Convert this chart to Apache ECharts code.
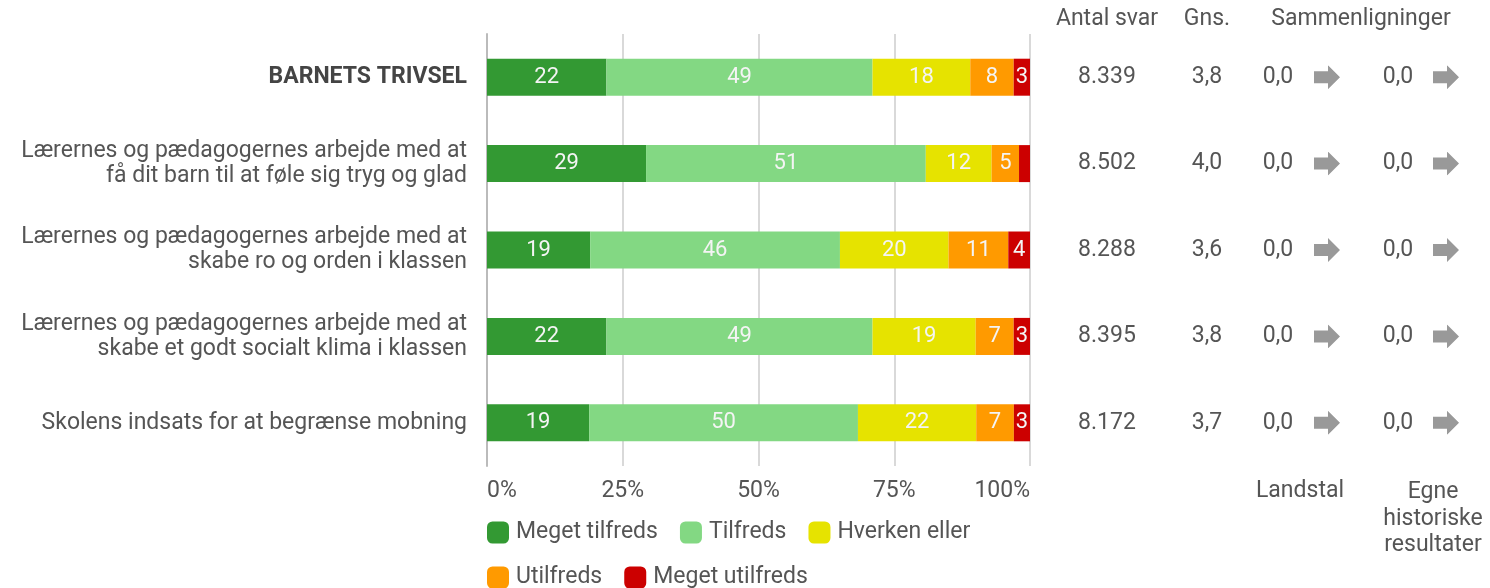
<!DOCTYPE html>
<html>
<head>
<meta charset="utf-8">
<title>Barnets trivsel</title>
<script src="https://cdn.jsdelivr.net/npm/echarts@6/dist/echarts.min.js"></script>
<style>
  html, body { margin: 0; padding: 0; background: #fff; }
  #chart { width: 1490px; height: 588px; }
</style>
</head>
<body>
<div id="chart"></div>
<script>
// Spørgsmål (første række er samlet indeks)
const categories = [
  'BARNETS TRIVSEL',
  'Lærernes og pædagogernes arbejde med at\nfå dit barn til at føle sig tryg og glad',
  'Lærernes og pædagogernes arbejde med at\nskabe ro og orden i klassen',
  'Lærernes og pædagogernes arbejde med at\nskabe et godt socialt klima i klassen',
  'Skolens indsats for at begrænse mobning'
];

// Svarfordeling i procent (afrundet, som vist i søjlerne)
const megetTilfreds = [22, 29, 19, 22, 19];
const tilfreds = [49, 51, 46, 49, 50];
const hverkenEller = [18, 12, 20, 19, 22];
const utilfreds = [8, 5, 11, 7, 7];
const megetUtilfreds = [3, 2, 4, 3, 3];

// Kolonner til højre
const antalSvar = ['8.339', '8.502', '8.288', '8.395', '8.172'];
const gns = ['3,8', '4,0', '3,6', '3,8', '3,7'];
const landstal = ['0,0', '0,0', '0,0', '0,0', '0,0'];
const egneHistoriske = ['0,0', '0,0', '0,0', '0,0', '0,0'];
const landstalTrend = ['flat', 'flat', 'flat', 'flat', 'flat'];
const egneTrend = ['flat', 'flat', 'flat', 'flat', 'flat'];

const xTicks = ['0%', '25%', '50%', '75%', '100%'];

const TEXT = '#555';
const FONT = 'Roboto';
const FS = 23;

const SERIES = [
  { name: 'Meget tilfreds', data: megetTilfreds, color: '#339933' },
  { name: 'Tilfreds', data: tilfreds, color: '#83d883' },
  { name: 'Hverken eller', data: hverkenEller, color: '#e6e300' },
  { name: 'Utilfreds', data: utilfreds, color: '#ff9a00' },
  { name: 'Meget utilfreds', data: megetUtilfreds, color: '#cc0000' }
];

// afrundede tal summer ikke altid til 100 - søjlerne skaleres så de fylder 100%
const rowTotals = categories.map((c, i) => SERIES.reduce((sum, s) => sum + s.data[i], 0));

// grå pil (uændret)
const ARROW_IMG = 'data:image/svg+xml;charset=utf-8,' + encodeURIComponent(
  "<svg xmlns='http://www.w3.org/2000/svg' width='26' height='24'>" +
  "<path d='M0 6H14V0L26 12L14 24V18H0Z' fill='#999999'/></svg>"
);

// ekstra kategori-akse til højre med tekst
function rightAxis(data, margin, extra) {
  return {
    type: 'category',
    inverse: true,
    position: 'right',
    data: data,
    axisLine: { show: false },
    axisTick: { show: false },
    splitLine: { show: false },
    axisLabel: Object.assign({
      margin: margin,
      align: 'center',
      color: TEXT,
      fontFamily: FONT,
      fontSize: FS
    }, extra || {})
  };
}

const arrowLabel = {
  formatter: () => '{a|}',
  rich: { a: { width: 26, height: 24, backgroundColor: { image: ARROW_IMG } } }
};

const chart = echarts.init(document.getElementById('chart'));

chart.setOption({
  animation: false,
  textStyle: { fontFamily: FONT },
  grid: { left: 487, right: 460, top: 34, bottom: 122 },
  legend: {
    left: 487,
    top: 521,
    width: 560,
    padding: 0,
    itemWidth: 22,
    itemHeight: 22,
    itemGap: 22,
    icon: 'roundRect',
    textStyle: { color: TEXT, fontFamily: FONT, fontSize: FS, lineHeight: 23, padding: [0, 0, 0, 2] },
    data: SERIES.map(s => s.name)
  },
  xAxis: {
    type: 'value',
    min: 0,
    max: 100,
    interval: 25,
    axisLine: { show: false },
    axisTick: { show: false },
    splitLine: { lineStyle: { color: '#cccccc', width: 1.5 } },
    axisLabel: {
      margin: 14,
      color: TEXT,
      fontFamily: FONT,
      fontSize: FS,
      alignMinLabel: 'left',
      alignMaxLabel: 'right',
      formatter: v => xTicks[v / 25]
    }
  },
  yAxis: [
    {
      type: 'category',
      inverse: true,
      data: categories,
      axisLine: { show: true, lineStyle: { color: '#bbbbbb', width: 2 } },
      axisTick: { show: false },
      axisLabel: {
        margin: 20,
        color: TEXT,
        fontFamily: FONT,
        fontSize: FS,
        lineHeight: 25,
        align: 'right',
        formatter: (v, i) => i === 0 ? '{b|' + v + '}' : v,
        rich: {
          b: { fontWeight: 'bold', color: '#444', fontFamily: FONT, fontSize: FS }
        }
      }
    },
    rightAxis(antalSvar, 77),
    rightAxis(gns, 177),
    rightAxis(landstal, 248),
    rightAxis(landstalTrend, 297, arrowLabel),
    rightAxis(egneHistoriske, 368),
    rightAxis(egneTrend, 416, arrowLabel)
  ],
  graphic: [
    { type: 'text', x: 1107, y: 8, style: { text: 'Antal svar', fill: TEXT, font: FS + 'px Roboto', align: 'center' } },
    { type: 'text', x: 1207, y: 8, style: { text: 'Gns.', fill: TEXT, font: FS + 'px Roboto', align: 'center' } },
    { type: 'text', x: 1361, y: 8, style: { text: 'Sammenligninger', fill: TEXT, font: FS + 'px Roboto', align: 'center' } },
    { type: 'text', x: 1300, y: 480, style: { text: 'Landstal', fill: TEXT, font: FS + 'px Roboto', align: 'center' } },
    {
      type: 'text', x: 1433, y: 479,
      style: { text: 'Egne\nhistoriske\nresultater', fill: TEXT, font: FS + 'px Roboto', align: 'center', lineHeight: 26.5 }
    }
  ],
  series: SERIES.map(s => ({
    name: s.name,
    type: 'bar',
    stack: 'total',
    barWidth: 37,
    data: s.data.map((v, i) => ({ value: v * 100 / rowTotals[i] })),
    itemStyle: { color: s.color },
    label: {
      show: true,
      position: 'inside',
      color: '#f4f4f4',
      fontFamily: FONT,
      fontSize: 22,
      formatter: p => s.data[p.dataIndex] >= 3 ? String(s.data[p.dataIndex]) : ''
    }
  }))
});
</script>
</body>
</html>
